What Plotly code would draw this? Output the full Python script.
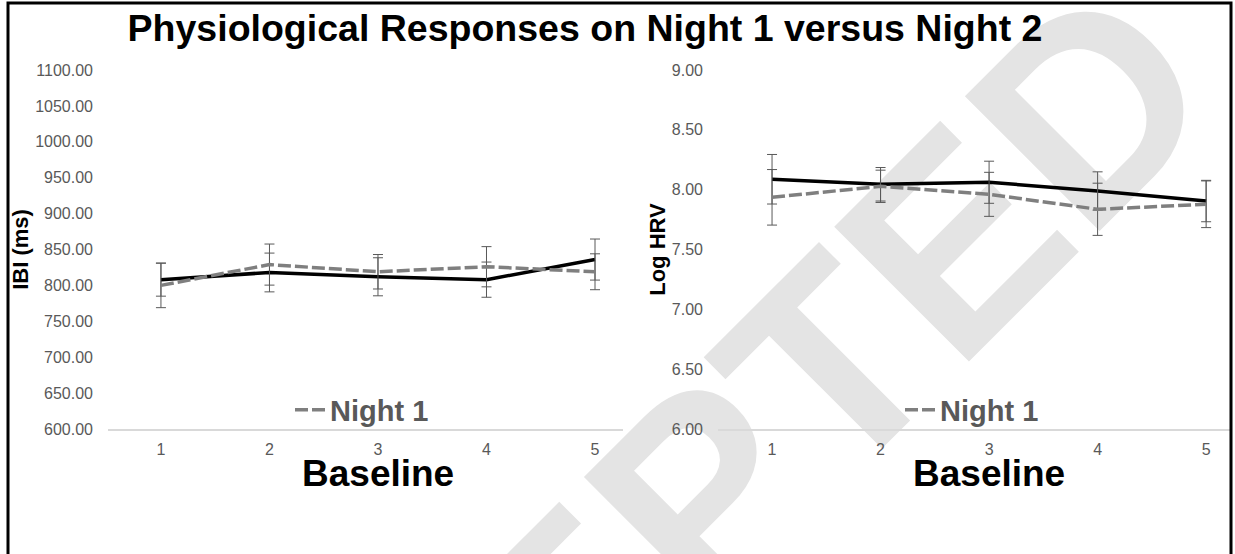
import plotly.graph_objects as go

W, H = 1235, 554

# ---- data ----
sessions = [1, 2, 3, 4, 5]
ibi_night1 = [800, 829, 819, 826, 819]
ibi_night1_err = [31, 28.6, 24, 28, 25]
ibi_night2 = [808, 818, 812, 808, 836]
ibi_night2_err = [23, 27, 26.5, 24.5, 28.6]
hrv_night1 = [7.936, 8.028, 7.961, 7.836, 7.878]
hrv_night1_err = [0.232, 0.135, 0.184, 0.218, 0.195]
hrv_night2 = [8.087, 8.045, 8.062, 7.989, 7.905]
hrv_night2_err = [0.207, 0.14, 0.176, 0.16, 0.173]
ibi_ticks = [600, 650, 700, 750, 800, 850, 900, 950, 1000, 1050, 1100]
hrv_ticks = [6.0, 6.5, 7.0, 7.5, 8.0, 8.5, 9.0]
title_text = "Physiological Responses on Night 1 versus Night 2"
x_title = "Baseline"
series_names = ["Night 1", "Night 2"]


def px(x):
    return x / W


def py(y):
    return 1 - y / H


FONT = "Liberation Sans, Arial, sans-serif"
GRAY_TXT = "#595959"
DASH = "13px,4px"

fig = go.Figure()


def add_panel(xa, ya, n1, e1, n2, e2, legend):
    fig.add_trace(go.Scatter(
        x=sessions, y=n2, name=series_names[1], mode="lines",
        line=dict(color="black", width=3.5),
        error_y=dict(type="data", array=e2, color=GRAY_TXT, thickness=1, width=5),
        xaxis=xa, yaxis=ya, showlegend=False, legend=legend))
    fig.add_trace(go.Scatter(
        x=sessions, y=n1, name=series_names[0], mode="lines",
        line=dict(color="#7f7f7f", width=3.5, dash=DASH),
        error_y=dict(type="data", array=e1, color=GRAY_TXT, thickness=1, width=5),
        xaxis=xa, yaxis=ya, showlegend=True, legend=legend))


add_panel("x", "y", ibi_night1, ibi_night1_err, ibi_night2, ibi_night2_err, "legend")
add_panel("x2", "y2", hrv_night1, hrv_night1_err, hrv_night2, hrv_night2_err, "legend2")

tickfont = dict(family=FONT, size=16, color=GRAY_TXT)
xcommon = dict(tickvals=sessions, ticktext=[str(s) for s in sessions], showgrid=False,
               zeroline=False, showline=True, linecolor="#d9d9d9", linewidth=1.5,
               ticks="", tickfont=tickfont, ticklabelstandoff=5, automargin=False)
ycommon = dict(showgrid=False, zeroline=False, showline=False, ticks="",
               tickfont=tickfont, ticklabelstandoff=14, automargin=False)
ytitle_font = dict(family=FONT, size=22, color="black", weight="bold")

fig.update_layout(
    width=W, height=H,
    margin=dict(l=0, r=0, t=0, b=0, autoexpand=False),
    paper_bgcolor="white", plot_bgcolor="rgba(0,0,0,0)",
    title=dict(text=title_text, x=px(585), xanchor="center", y=py(28), yanchor="middle",
               font=dict(family=FONT, size=37.5, color="black", weight="bold")),
    xaxis=dict(domain=[px(108), px(623)], range=[0.512, 5.258], anchor="y", **xcommon),
    yaxis=dict(domain=[py(429), py(70)], range=[600, 1100], anchor="x",
               tickvals=ibi_ticks, ticktext=[f"{v:.2f}" for v in ibi_ticks],
               title=dict(text="IBI (ms)", font=ytitle_font, standoff=0),
               **ycommon),
    xaxis2=dict(domain=[px(718), px(1230)], range=[0.502, 5.22], anchor="y2", **xcommon),
    yaxis2=dict(domain=[py(429), py(70)], range=[6, 9], anchor="x2",
                tickvals=hrv_ticks, ticktext=[f"{v:.2f}" for v in hrv_ticks],
                title=dict(text="Log HRV", font=ytitle_font, standoff=0),
                **ycommon),
    legend=dict(x=px(290), y=py(410), xanchor="left", yanchor="middle",
                bgcolor="rgba(0,0,0,0)", borderwidth=0,
                font=dict(family=FONT, size=29, color=GRAY_TXT, weight="bold")),
    legend2=dict(x=px(900), y=py(410), xanchor="left", yanchor="middle",
                 bgcolor="rgba(0,0,0,0)", borderwidth=0,
                 font=dict(family=FONT, size=29, color=GRAY_TXT, weight="bold")),
    annotations=[
        dict(text=x_title, xref="x", yref="paper", x=3, y=py(473), yanchor="middle",
             showarrow=False, font=dict(family=FONT, size=37, color="black", weight="bold")),
        dict(text=x_title, xref="x2", yref="paper", x=3, y=py(473), yanchor="middle",
             showarrow=False, font=dict(family=FONT, size=37, color="black", weight="bold")),
    ],
    shapes=[
        dict(type="rect", xref="paper", yref="paper",
             x0=px(593), x1=px(613), y0=py(565), y1=py(545),
             line=dict(width=0), fillcolor="rgba(0,0,0,0)", layer="below",
             label=dict(text="ACCEPTED", textangle=-45, textposition="middle center",
                        font=dict(family=FONT, size=277, color="#e4e4e4", weight="bold"))),
        dict(type="rect", xref="paper", yref="paper",
             x0=px(8), x1=px(1231), y0=py(600), y1=py(3),
             line=dict(color="black", width=3), fillcolor="rgba(0,0,0,0)", layer="above"),
    ],
)

fig.write_html("out.html", config={"displayModeBar": False},
               post_script="document.body.style.margin='0';document.body.style.overflow='hidden';")
